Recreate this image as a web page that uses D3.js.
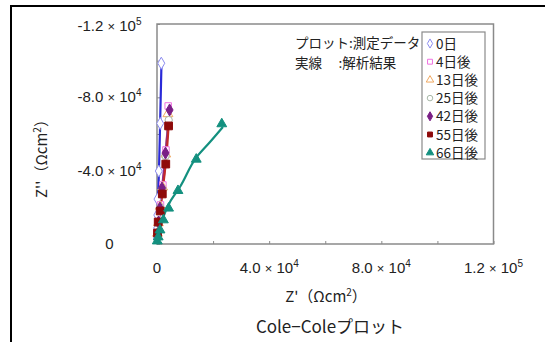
<!DOCTYPE html>
<html>
<head>
<meta charset="utf-8">
<script src="https://cdn.jsdelivr.net/npm/d3@7"></script>
<style>
  body { margin: 0; background: #fff; }
  svg { display: block; }
  .tick-lbl { font-family: "Liberation Sans", Arial, sans-serif; font-size: 15px; fill: #222; }
  .jp { font-family: "Noto Sans CJK JP", sans-serif; fill: #222; }
</style>
</head>
<body>
<svg width="545" height="342"></svg>
<script>
// series names (legend)
var seriesNames = ["0日", "4日後", "13日後", "25日後", "42日後", "55日後", "66日後"];

// measured points [Z', -Z''] in Ω cm2
var meas0  = [[20, 3300], [50, 8700], [100, 15800], [180, 24500], [640, 39800], [1140, 65800], [1530, 98600]];
var meas4  = [[180, 6000], [530, 12000], [1250, 21300], [2100, 32200], [3200, 51300], [3990, 75300]];
var meas13 = [[170, 5800], [500, 11500], [1200, 20500], [2000, 31000], [3100, 49000], [3900, 71000]];
var meas25 = [[160, 5500], [480, 11200], [1150, 20000], [1950, 30000], [3050, 48000], [4170, 67600]];
var meas42 = [[180, 5500], [530, 12000], [1070, 19600], [1780, 30500], [3030, 49600], [4490, 73100]];
var meas55 = [[180, 6000], [430, 12000], [1140, 18000], [1890, 27300], [3130, 43600], [4130, 64400]];
var meas66 = [[100, 1600], [430, 3800], [1070, 7600], [2280, 13100], [4130, 19500], [7480, 29100], [14000, 46200], [23100, 65500]];

// fitted curves (解析結果)
var fit0  = [[0, 0], [300, 20000], [700, 40000], [1100, 65000], [1600, 99000]];
var fit4  = [[0, 0], [600, 13000], [1300, 22000], [2200, 33000], [3300, 52000], [4100, 76000]];
var fit13 = [[0, 0], [550, 12000], [1250, 21000], [2100, 31500], [3200, 49500], [4000, 72000]];
var fit25 = [[0, 0], [520, 11500], [1200, 20500], [2000, 30500], [3100, 48500], [4200, 68500]];
var fit42 = [[0, 0], [550, 12500], [1100, 20500], [1850, 31000], [3100, 50000], [4500, 73500]];
var fit55 = [[0, 0], [450, 12500], [1150, 18500], [1900, 28000], [3150, 44500], [4200, 66000]];
var fit66 = [[0, 0], [710, 6000], [2140, 14200], [4630, 22900], [8190, 31100], [14200, 47500], [18900, 55600], [23500, 63800]];

var tickValues = [0, 20000, 40000, 60000, 80000, 100000, 120000];
var labelValues = [0, 40000, 80000, 120000];

var measured = [meas0, meas4, meas13, meas25, meas42, meas55, meas66];
var fitted = [fit0, fit4, fit13, fit25, fit42, fit55, fit66];

var markerColor = ["#8c8cf0", "#f070e0", "#f0a860", "#a8b8a8", "#7a1f86", "#8e0a0a", "#13907f"];
var lineColor = ["#2a2ad8", "#f060c8", "#f0a060", "#98a898", "#8a2a96", "#c22a2a", "#13907f"];
var markerType = [d3.symbolDiamond, d3.symbolSquare, d3.symbolTriangle, d3.symbolCircle, d3.symbolDiamond, d3.symbolSquare, d3.symbolTriangle];
var markerFilled = [false, false, false, false, true, true, true];

var svg = d3.select("svg");

// outer frame
svg.append("path")
    .attr("d", "M11,342 V6 H545")
    .attr("fill", "none")
    .attr("stroke", "#000")
    .attr("stroke-width", 2);

var x = d3.scaleLinear().domain([0, 120000]).range([157, 493.5]);
var y = d3.scaleLinear().domain([0, 120000]).range([244, 24]);

// plot area
svg.append("rect")
    .attr("x", x(0)).attr("y", y(120000))
    .attr("width", x(120000) - x(0)).attr("height", y(0) - y(120000))
    .attr("fill", "#fff")
    .attr("stroke", "#8a8a8a")
    .attr("stroke-width", 1.5);

// inside ticks
svg.append("g")
    .attr("transform", "translate(0," + y(0) + ")")
    .call(d3.axisBottom(x).tickValues(tickValues).tickSize(-3).tickFormat(""))
    .call(function(g) {
        g.select(".domain").remove();
        g.selectAll("line").attr("stroke", "#8a8a8a");
    });
svg.append("g")
    .attr("transform", "translate(" + x(0) + ",0)")
    .call(d3.axisLeft(y).tickValues(tickValues).tickSize(-3).tickFormat(""))
    .call(function(g) {
        g.select(".domain").remove();
        g.selectAll("line").attr("stroke", "#8a8a8a");
    });

// tick label like "4.0×10^4"
function sciLabel(sel, v, neg) {
    if (v === 0) { sel.text("0"); return; }
    var e = Math.floor(Math.log10(v));
    var m = (v / Math.pow(10, e)).toFixed(1);
    sel.append("tspan").text((neg ? "-" : "") + m + " ");
    sel.append("tspan").attr("font-size", 13).text("×");
    sel.append("tspan").text(" 10");
    sel.append("tspan").attr("font-size", 10).attr("dy", -6).text(e);
}

svg.append("g").selectAll("text")
    .data(labelValues)
    .join("text")
    .attr("class", "tick-lbl")
    .attr("x", function(d) { return x(d); })
    .attr("y", 273)
    .attr("text-anchor", "middle")
    .each(function(d) { sciLabel(d3.select(this), d, false); });

svg.append("g").selectAll("text")
    .data(labelValues)
    .join("text")
    .attr("class", "tick-lbl")
    .attr("x", 109.5)
    .attr("y", function(d) { return y(d) + 5 + (d === 120000 ? 2 : 0); })
    .attr("text-anchor", "middle")
    .each(function(d) { sciLabel(d3.select(this), d, true); });

// axis titles
var xt = svg.append("text")
    .attr("class", "jp")
    .attr("x", 326).attr("y", 302)
    .attr("text-anchor", "middle")
    .attr("font-size", 15);
xt.append("tspan").text("Z'（Ωcm");
xt.append("tspan").attr("font-size", 10).attr("dy", -6).text("2");
xt.append("tspan").attr("dy", 6).text("）");

var yt = svg.append("text")
    .attr("class", "jp")
    .attr("transform", "translate(47,155) rotate(-90)")
    .attr("text-anchor", "middle")
    .attr("font-size", 15);
yt.append("tspan").text("Z''（Ωcm");
yt.append("tspan").attr("font-size", 10).attr("dy", -6).text("2");
yt.append("tspan").attr("dy", 6).text("）");

svg.append("text")
    .attr("class", "jp")
    .attr("x", 330).attr("y", 333)
    .attr("text-anchor", "middle")
    .attr("font-size", 17)
    .text("Cole−Coleプロット");

// fitted lines
var line = d3.line()
    .x(function(d) { return x(d[0]); })
    .y(function(d) { return y(d[1]); })
    .curve(d3.curveMonotoneY);

svg.append("g").selectAll("path")
    .data(fitted)
    .join("path")
    .attr("d", line)
    .attr("fill", "none")
    .attr("stroke", function(d, i) { return lineColor[i]; })
    .attr("stroke-width", 2.2);

// measured markers
seriesNames.forEach(function(name, i) {
    var sym = d3.symbol().type(markerType[i]).size(i === 5 ? 60 : 42);
    svg.append("g").selectAll("path")
        .data(measured[i])
        .join("path")
        .attr("transform", function(d) { return "translate(" + x(d[0]) + "," + y(d[1]) + ")"; })
        .attr("d", sym)
        .attr("fill", markerFilled[i] ? markerColor[i] : "#fff")
        .attr("stroke", markerColor[i])
        .attr("stroke-width", 1);
});

// annotation
svg.append("text").attr("class", "jp").attr("x", 295).attr("y", 48)
    .attr("font-size", 13.5).text("プロット:測定データ");
svg.append("text").attr("class", "jp").attr("x", 295).attr("y", 68)
    .attr("font-size", 13.5).attr("xml:space", "preserve").text("実線　 :解析結果");

// legend
var legend = svg.append("g").attr("transform", "translate(422,32)");
legend.append("rect")
    .attr("width", 63).attr("height", 127)
    .attr("fill", "#fff")
    .attr("stroke", "#8a8a8a")
    .attr("stroke-width", 1.2);

var item = legend.selectAll("g.item")
    .data(seriesNames)
    .join("g")
    .attr("class", "item")
    .attr("transform", function(d, i) { return "translate(0," + (11.5 + i * 18.2) + ")"; });

item.append("path")
    .attr("transform", "translate(8,0)")
    .attr("d", function(d, i) { return d3.symbol().type(markerType[i]).size(24)(); })
    .attr("fill", function(d, i) { return markerFilled[i] ? markerColor[i] : "#fff"; })
    .attr("stroke", function(d, i) { return markerColor[i]; });

item.append("text")
    .attr("class", "jp")
    .attr("x", 14).attr("y", 5)
    .attr("font-size", 13.5)
    .text(function(d) { return d; });
</script>
</body>
</html>
